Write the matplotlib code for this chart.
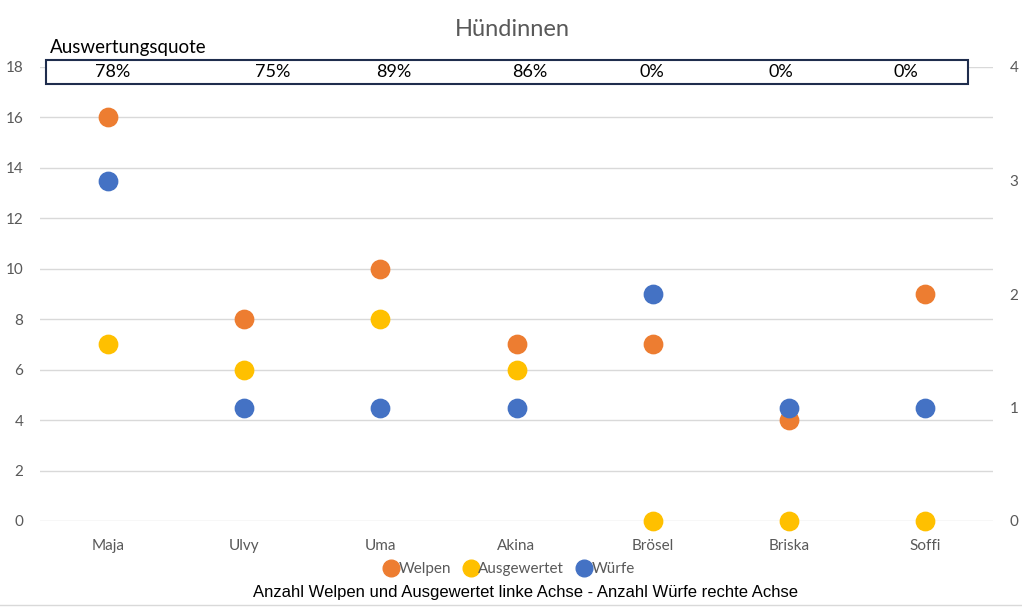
import numpy as np
import matplotlib
matplotlib.use("Agg")
import matplotlib.pyplot as plt
from matplotlib.patches import Rectangle
from matplotlib.lines import Line2D

hunde = ['Maja', 'Ulvy', 'Uma', 'Akina', 'Brösel', 'Briska', 'Soffi']
welpen = [16, 8, 10, 7, 7, 4, 9]
ausgewertet = [7, 6, 8, 6, 0, 0, 0]
wuerfe = [3, 1, 1, 1, 2, 1, 1]
quote = ['78%', '75%', '89%', '86%', '0%', '0%', '0%']
# x-Position der Prozentwerte im Textfeld (Pixel)
quote_px = [113, 273, 394, 530, 652, 781, 906]

c_welpen = '#ED7D31'
c_ausg = '#FFC000'
c_wuerfe = '#4472C4'
grau = '#595959'

plt.rcParams['font.family'] = ['Lato', 'DejaVu Sans']

W, H = 1022, 607
fig = plt.figure(figsize=(W / 100, H / 100), dpi=100)
ax = fig.add_axes([40 / W, 1 - 521 / H, (993 - 40) / W, (521 - 67) / H])
ax2 = ax.twinx()

x = np.arange(len(hunde))
ax.scatter(x, welpen, s=175, color=c_welpen, zorder=3, clip_on=False, label='Welpen')
ax.scatter(x, ausgewertet, s=175, color=c_ausg, zorder=3, clip_on=False, label='Ausgewertet')
ax2.scatter(x, wuerfe, s=175, color=c_wuerfe, zorder=3, clip_on=False, label='Würfe')

ax.set_xlim(-0.5, len(hunde) - 0.5)
ax.set_ylim(0, 18)
ax.set_yticks(range(0, 19, 2))
ax2.set_ylim(0, 4)
ax2.set_yticks(range(0, 5))
ax.set_xticks(x)
ax.set_xticklabels(hunde)

ax.grid(axis='y', color='#D9D9D9', linewidth=1)
ax.set_axisbelow(True)
for a in (ax, ax2):
    for s in a.spines.values():
        s.set_visible(False)
    a.tick_params(length=0, colors=grau, labelsize=11)
ax.tick_params(axis='y', pad=12)
ax2.tick_params(axis='y', pad=12)
ax.tick_params(axis='x', pad=13)

fig.text(512 / W, 1 - 30 / H, 'Hündinnen', ha='center', va='center', fontsize=17, color=grau)

# Textfeld mit Auswertungsquote
fig.patches.append(Rectangle((46 / W, 1 - 84 / H), (968 - 46) / W, 24 / H,
                             transform=fig.transFigure, fill=True, facecolor='white',
                             edgecolor='#1F2D4D', linewidth=1.5, zorder=5))
fig.text(50 / W, 1 - 47 / H, 'Auswertungsquote', ha='left', va='center', fontsize=13.5, color='black')
for px, q in zip(quote_px, quote):
    fig.text(px / W, 1 - 72 / H, q, ha='center', va='center', fontsize=13, color='black', zorder=6)

handles = [Line2D([], [], marker='o', linestyle='', markersize=12, color=c) for c in (c_welpen, c_ausg, c_wuerfe)]
fig.legend(handles, ['Welpen', 'Ausgewertet', 'Würfe'], loc='center', bbox_to_anchor=(509 / W, 1 - 569 / H),
           ncol=3, frameon=False, handletextpad=0.0, columnspacing=0.8, fontsize=11,
           labelcolor=grau, handlelength=1.0)

fig.text(525 / W, 1 - 592 / H, 'Anzahl Welpen und Ausgewertet linke Achse - Anzahl Würfe rechte Achse',
         ha='center', va='center', fontsize=12, color='black', family=['Liberation Sans', 'DejaVu Sans'])

fig.lines.append(Line2D([0, 1], [1 - 605 / H, 1 - 605 / H], transform=fig.transFigure, color='#D9D9D9', linewidth=1))

fig.savefig('out.png', dpi=100)
